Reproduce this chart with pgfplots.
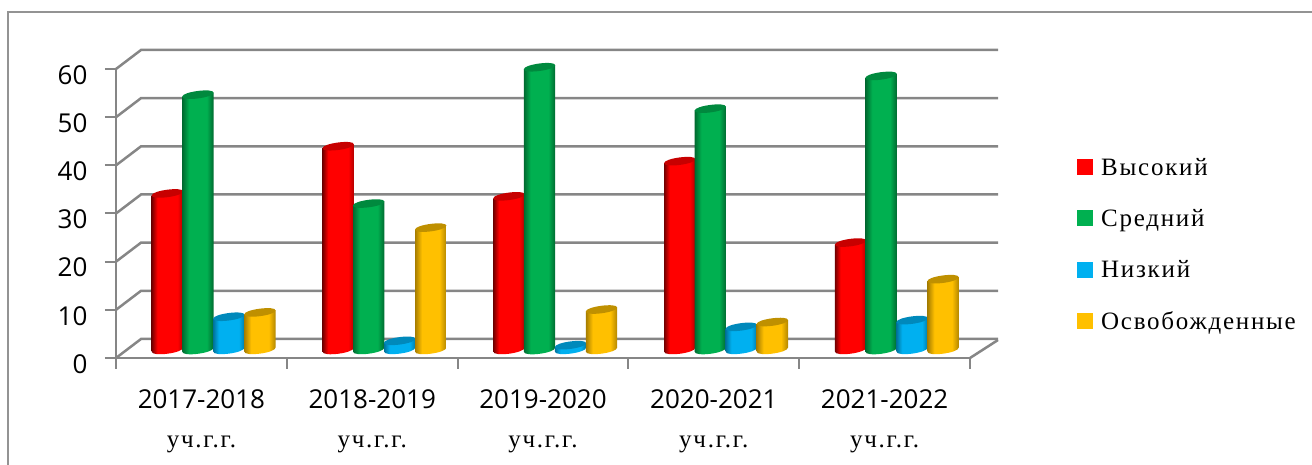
\documentclass[border=0pt]{standalone}
\usepackage{pgfplots}
\usepackage{pgfplotstable}
\usepackage{fontspec}
\pgfplotsset{compat=1.18}
\setmainfont{Open Sans}
\newfontfamily\lgfont[LetterSpace=7]{Liberation Serif}
\definecolor{gridc}{HTML}{868686}
\pgfplotstableread{
x   Vis  Sred Niz Osv
0.5 32.4 52.9 6.8 7.7
1.5 42.2 30.3 1.8 25.3
2.5 31.8 58.6 0.9 8.3
3.5 39.1 50.0 4.7 5.7
4.5 22.2 56.8 6.1 14.6
}\data
\pgfdeclarehorizontalshading{cylR}{100bp}{color(0bp)=(red!45!black);color(25bp)=(red!45!black);color(34bp)=(red);color(66bp)=(red);color(75bp)=(red!70!black);color(100bp)=(red!70!black)}
\definecolor{cG}{HTML}{00B050}\definecolor{cB}{HTML}{00B0F0}\definecolor{cY}{HTML}{FFC000}
\pgfdeclarehorizontalshading{cylG}{100bp}{color(0bp)=(cG!60!black);color(25bp)=(cG!60!black);color(36bp)=(cG);color(64bp)=(cG);color(75bp)=(cG!60!black);color(100bp)=(cG!60!black)}
\pgfdeclarehorizontalshading{cylB}{100bp}{color(0bp)=(cB!65!black);color(25bp)=(cB!65!black);color(34bp)=(cB);color(66bp)=(cB);color(75bp)=(cB!70!black);color(100bp)=(cB!70!black)}
\pgfdeclarehorizontalshading{cylY}{100bp}{color(0bp)=(cY!65!black);color(25bp)=(cY!65!black);color(36bp)=(cY);color(64bp)=(cY);color(75bp)=(cY!70!black);color(100bp)=(cY!70!black)}
\newcommand\cylmark[4]{\pgfdeclareplotmark{#1}{%
  \pgfmathsetmacro\hh{\val*4.82}%
  \pgftransformshift{\pgfpoint{#4pt}{8.5pt}}%
  \path[draw=none,shading=#2] (-15.7pt,-2pt) -- (-15.7pt,-2pt-\hh pt) .. controls (-15.7pt,-7.5pt-\hh pt) and (15.7pt,-3.5pt-\hh pt) .. (15.7pt,2pt-\hh pt) -- (15.7pt,2pt) -- cycle;
  \path[draw=none,fill=#3] (-15.7pt,-2pt) .. controls (-15.7pt,3pt) and (15.7pt,7pt) .. (15.7pt,2pt) .. controls (15.7pt,-3pt) and (-15.7pt,-7pt) .. (-15.7pt,-2pt) -- cycle;
  }}
\cylmark{mR}{cylR}{red!78!black}{-34}
\cylmark{mG}{cylG}{cG!78!black}{-3.5}
\cylmark{mB}{cylB}{cB!78!black}{27.5}
\cylmark{mY}{cylY}{cY!75!black}{58.5}
\pgfplotsset{cyl/.style={only marks,scatter,scatter src=y,
  visualization depends on={rawy\as\val},
  scatter/@pre marker code/.code={\pgfscope},
  scatter/@post marker code/.code={\endpgfscope}},
  lg/.style={legend image code/.code={\path[draw=none,fill=#1] (0pt,-8pt) rectangle (16pt,8pt);}}}
\begin{document}
\begin{tikzpicture}[x=1pt,y=1pt]
\useasboundingbox (0,0) rectangle (1312,465);
\draw[line width=1.5pt,color=gray!85] (8,-5) -- (8,453) -- (1320,453);
\begin{axis}[
  at={(116pt,107pt)},anchor=south west,
  scale only axis,width=854pt,height=289pt,
  xmin=0,xmax=5,ymin=0,ymax=60,clip=false,
  axis x line*=bottom,axis y line*=left,
  axis line style={gridc,line width=2.5pt,-},
  tick style={gridc,line width=2pt},
  tick align=outside,
  xtick={0.5,1.5,2.5,3.5,4.5},
  xticklabels={2017-2018,2018-2019,2019-2020,2020-2021,2021-2022},
  minor xtick={0,1,2,3,4,5},
  major x tick style={draw=none},
  minor tick length=11pt,
  major tick length=11pt,
  ytick={0,10,...,60},
  yticklabel style={font=\fontsize{26}{26}\selectfont,xshift=-14pt,yshift=-6pt},
  xticklabel style={font=\fontsize{26}{26}\selectfont,yshift=-17pt,anchor=north},
  /pgf/number format/assume math mode=true,
  legend style={draw=none,fill=none,at={(958pt,23pt)},anchor=south west,
    legend cell align=left,row sep=28.5pt,font=\lgfont\fontsize{25}{25}\selectfont},
]
\pgfplotsinvokeforeach{0,10,...,60}{
  \draw[gridc,line width=2.5pt] (axis cs:0,#1) -- ++(25pt,19pt) -- ++(857pt,0pt);
}
\draw[gridc,line width=2.5pt] (axis cs:5,0) -- ++(28pt,18pt);
\addplot[cyl,mark=mR,forget plot] table[x=x,y=Vis]{\data};
\addplot[cyl,mark=mG,forget plot] table[x=x,y=Sred]{\data};
\addplot[cyl,mark=mB,forget plot] table[x=x,y=Niz]{\data};
\addplot[cyl,mark=mY,forget plot] table[x=x,y=Osv]{\data};
\addlegendimage{lg=red}\addlegendentry{\hspace*{6pt}Высокий}
\addlegendimage{lg=cG}\addlegendentry{\hspace*{6pt}Средний}
\addlegendimage{lg=cB}\addlegendentry{\hspace*{6pt}Низкий}
\addlegendimage{lg=cY}\addlegendentry{\hspace*{6pt}Освобожденные}
\pgfplotsinvokeforeach{0.5,1.5,2.5,3.5,4.5}{
  \node[font=\lgfont\fontsize{25}{25}\selectfont,anchor=base] at ([yshift=-90pt]axis cs:#1,0) {уч.г.г.};
}
\end{axis}
\end{tikzpicture}
\end{document}
